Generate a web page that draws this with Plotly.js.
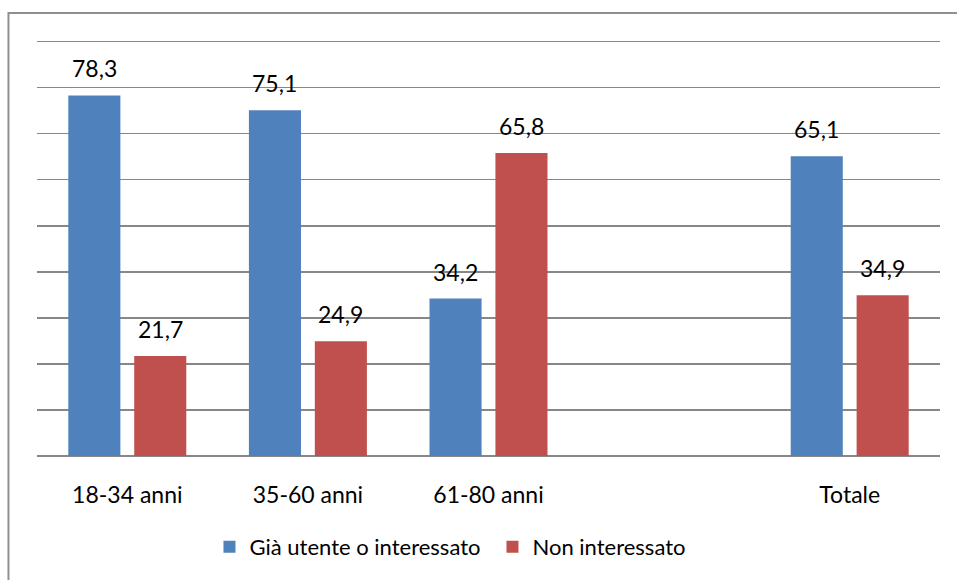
<!DOCTYPE html>
<html>
<head>
<meta charset="utf-8">
<script src="https://cdn.plot.ly/plotly-3.0.1.min.js"></script>
<style>
  html, body { margin: 0; padding: 0; background: #ffffff; }
  #chart { width: 957px; height: 580px; }
</style>
</head>
<body>
<div id="chart"></div>
<script>
// Age groups (the blank slot leaves a gap before the total)
const categories = ['18-34 anni', '35-60 anni', '61-80 anni', ' ', 'Totale'];
const seriesNames = ['Già utente o interessato', 'Non interessato'];
const giaUtente = [78.3, 75.1, 34.2, null, 65.1];
const nonInteressato = [21.7, 24.9, 65.8, null, 34.9];
const gridTicks = [0, 10, 20, 30, 40, 50, 60, 70, 80, 90];

const BLUE = '#4F81BD';
const RED = '#C0504D';
const FONT = 'Lato, "Open Sans", sans-serif';

const traces = [
  { type: 'bar', name: seriesNames[0], x: categories, y: giaUtente,
    marker: { color: BLUE }, hoverinfo: 'skip' },
  { type: 'bar', name: seriesNames[1], x: categories, y: nonInteressato,
    marker: { color: RED }, hoverinfo: 'skip' }
];

// Value labels above each bar, shifted to the bar's slot inside its group
const barOffset = 0.183;
const fmt = v => v.toFixed(1).replace('.', ',');
const annotations = [];
[[giaUtente, -barOffset], [nonInteressato, barOffset]].forEach(([vals, off]) => {
  vals.forEach((v, i) => {
    if (v === null) return;
    annotations.push({
      x: i + off, y: v, xref: 'x', yref: 'y',
      text: fmt(v), showarrow: false,
      yanchor: 'bottom', yshift: 11,
      font: { family: FONT, size: 23, color: '#000000' }
    });
  });
});

const layout = {
  width: 957, height: 580,
  margin: { l: 37, r: 17, t: 37, b: 122 },
  paper_bgcolor: '#ffffff', plot_bgcolor: '#ffffff',
  barmode: 'group', bargap: 0.27, bargroupgap: 0.21,
  font: { family: FONT, size: 23, color: '#000000' },
  xaxis: {
    type: 'category', showgrid: false, zeroline: false,
    showline: false, ticks: '', ticklabelstandoff: 23,
    tickfont: { family: FONT, size: 23, color: '#000000' }
  },
  yaxis: {
    range: [0, 91], tickvals: gridTicks, showticklabels: false,
    showgrid: true, gridcolor: '#878787', gridwidth: 1.5,
    zeroline: true, zerolinecolor: '#878787', zerolinewidth: 2,
    showline: false, ticks: '', fixedrange: true
  },
  showlegend: true,
  legend: {
    orientation: 'h', x: 0.191, xanchor: 'left', y: -0.217, yanchor: 'middle',
    entrywidth: 238, entrywidthmode: 'pixels',
    font: { family: FONT, size: 22, color: '#000000' },
    itemclick: false, itemdoubleclick: false, traceorder: 'normal'
  },
  annotations: annotations,
  shapes: [{
    type: 'rect', xref: 'paper', yref: 'paper',
    x0: -0.0316, x1: 1.1, y0: -0.4, y1: 1.0575,
    line: { color: '#8f8f8f', width: 2 }, fillcolor: 'rgba(0,0,0,0)', layer: 'below'
  }]
};

Plotly.newPlot('chart', traces, layout, { displayModeBar: false, staticPlot: true });
</script>
</body>
</html>
